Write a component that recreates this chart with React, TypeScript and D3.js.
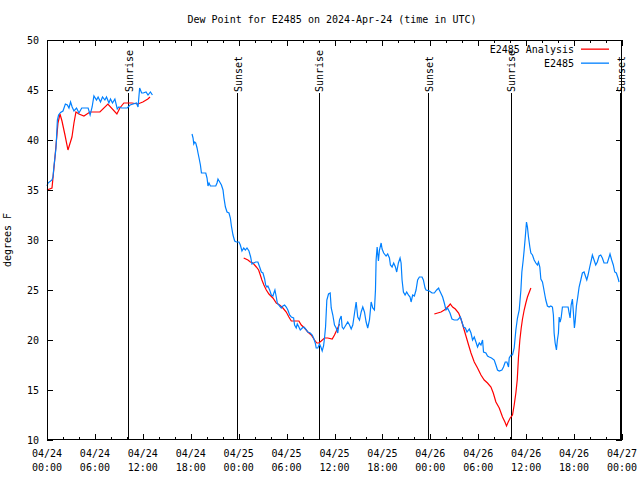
import React from "react";
import * as d3 from "d3";

// time in hours since 2024-04-24 00:00 UTC, value in degrees F
const analysisSeg1: [number, number][] = [[0,35.0],[0.625,35.2],[1,38.3],[1.375,41.7],[1.625,42.6],[1.875,41.9],[2.25,40.5],[2.625,39.0],[3.125,40.3],[3.375,41.7],[3.625,42.8],[4,42.6],[4.625,42.4],[5.375,42.8],[6.625,42.8],[7.625,43.6],[8.75,42.6],[9.125,43.2],[9.625,43.7],[10.625,43.7],[11.375,43.6],[12,43.8],[12.625,44.1],[12.9,44.3]];
const analysisSeg2: [number, number][] = [[24.63,28.2],[25.16,28.0],[25.46,27.8],[25.79,27.7],[26.21,27.3],[26.5,27.0],[26.71,26.5],[26.91,26.0],[27.16,25.5],[27.46,25.0],[27.79,24.6],[28.29,24.2],[28.71,23.7],[29.13,23.5],[29.54,23.2],[29.96,22.8],[30.29,22.3],[30.59,21.9],[31.54,21.9],[31.84,21.5],[32.25,21.2],[32.66,20.8],[33.09,20.5],[33.5,20.0],[33.79,19.7],[34.04,19.7],[34.34,19.9],[34.75,20.2],[35.16,20.2],[35.71,20.1],[36.0,20.5],[36.29,21.0],[36.63,21.6]];
const analysisSeg3: [number, number][] = [[48.5,22.6],[49.34,22.8],[49.75,23.0],[50.04,23.2],[50.29,23.4],[50.5,23.6],[50.79,23.3],[51.13,23.1],[51.54,22.7],[51.84,22.1],[52.13,21.3],[52.46,20.4],[52.79,19.5],[53.09,18.7],[53.5,17.8],[53.91,17.2],[54.34,16.5],[54.75,16.0],[55.16,15.7],[55.59,15.3],[55.88,14.7],[56.21,13.8],[56.63,13.2],[57.04,12.3],[57.34,11.8],[57.54,11.4],[57.75,11.8],[58.0,12.2],[58.29,12.5],[58.5,13.5],[58.71,14.7],[58.88,16.0],[59.04,18.3],[59.21,20.0],[59.38,21.2],[59.54,22.1],[59.75,23.0],[59.96,23.7],[60.16,24.3],[60.59,25.2]];

const obsSeg1: [number, number][] = [[0,35.4],[0.125,35.7],[0.625,36.0],[0.75,36.3],[0.875,37.4],[1.0,38.3],[1.125,39.2],[1.2,40.3],[1.3,42.0],[1.45,42.5],[1.7,42.75],[2.0,42.9],[2.3,43.6],[2.55,43.5],[2.75,43.2],[2.95,43.8],[3.15,43.3],[3.375,42.9],[3.7,43.2],[4.0,42.7],[4.35,43.2],[5.15,43.2],[5.4,42.5],[5.65,43.3],[5.875,44.4],[6.2,44.0],[6.4,44.3],[6.7,43.8],[6.95,44.3],[7.25,44.0],[7.45,44.3],[7.75,43.7],[7.95,44.1],[8.2,43.7],[8.5,44.1],[8.8,43.1],[9.0,43.3],[9.35,43.2],[10.05,43.2],[10.4,43.5],[11.2,43.7],[11.4,43.3],[11.6,45.2],[11.85,44.7],[12.05,44.7],[12.4,44.8],[12.65,44.5],[12.95,44.8],[13.2,44.5]];
const obsSeg2: [number, number][] = [[18.16,40.6],[18.29,40.2],[18.38,39.6],[18.5,39.8],[18.63,39.7],[18.79,39.2],[18.91,38.7],[19.04,38.2],[19.21,37.5],[19.34,36.7],[19.88,36.7],[20.04,36.2],[20.16,35.4],[20.29,35.7],[20.46,35.4],[21.13,35.4],[21.29,35.7],[21.41,36.1],[21.63,35.8],[21.84,35.5],[22.04,35.0],[22.16,34.2],[22.34,33.3],[22.54,32.8],[22.79,32.7],[22.96,32.2],[23.09,31.4],[23.29,30.5],[23.5,29.9],[23.71,29.8],[24.04,29.8],[24.21,29.5],[24.41,28.9],[24.63,29.2],[24.84,29.0],[25.04,29.2],[25.29,28.9],[25.5,28.3],[25.66,27.6],[25.88,27.7],[26.13,27.8],[26.41,27.8],[26.63,27.3],[26.84,26.8],[27.04,26.7],[27.25,26.1],[27.38,25.5],[27.54,25.3],[27.66,25.4],[27.88,25.0],[28.09,24.5],[28.29,24.4],[28.41,24.7],[28.54,25.0],[28.71,24.3],[28.84,23.7],[29.13,23.4],[29.34,23.2],[29.54,23.4],[29.75,23.5],[29.96,23.3],[30.16,23.0],[30.38,22.5],[30.59,22.3],[30.88,22.2],[31.0,21.5],[31.21,21.2],[31.34,21.6],[31.54,21.3],[31.71,21.0],[31.96,21.2],[32.16,21.3],[32.38,21.1],[32.66,20.8],[32.96,20.7],[33.21,20.5],[33.38,20.2],[33.59,19.7],[33.71,19.2],[33.91,19.2],[34.13,19.6],[34.34,19.2],[34.46,18.9],[34.63,19.4],[34.75,20.2],[34.88,21.3],[35.04,24.0],[35.25,24.6],[35.46,24.7],[35.59,23.2],[35.79,22.5],[36.0,21.5],[36.21,21.2],[36.41,20.7],[36.63,22.0],[36.84,22.4],[36.96,21.3],[37.13,21.1],[37.66,21.8],[37.88,21.5],[38.09,21.1],[38.29,21.5],[38.71,23.8],[38.91,22.3],[39.13,22.0],[39.34,22.8],[39.54,23.3],[39.75,22.8],[39.96,21.8],[40.16,21.2],[40.38,22.0],[40.59,23.8],[40.79,23.2],[41.0,23.0],[41.13,25.0],[41.21,28.0],[41.34,29.3],[41.5,27.9],[41.63,29.0],[41.84,29.7],[41.96,29.1],[42.16,28.7],[42.46,28.4],[42.66,28.6],[42.88,28.2],[43.0,27.5],[43.21,27.3],[43.41,27.7],[43.63,27.3],[43.79,26.8],[44.0,27.7],[44.21,28.2],[44.34,27.7],[44.46,26.0],[44.63,24.8],[44.84,24.5],[45.04,24.8],[45.25,24.5],[45.46,24.3],[45.59,23.8],[45.79,24.5],[46.0,24.4],[46.21,25.0],[46.41,26.0],[46.63,26.3],[46.96,26.3],[47.13,26.0],[47.34,25.2],[47.46,25.0],[47.88,24.9],[48.21,24.7],[48.5,24.7],[48.79,25.0],[49.04,25.2],[49.13,25.0],[49.54,24.3],[49.75,23.7],[49.96,23.0],[50.16,23.2],[50.46,22.7],[50.71,22.1],[51.0,22.0],[51.41,22.0],[51.75,22.3],[51.96,21.8],[52.16,21.3],[52.38,21.2],[52.59,20.8],[52.88,21.1],[53.09,20.7],[53.29,20.0],[53.5,20.3],[53.71,19.8],[53.91,19.3],[54.13,19.7],[54.34,19.5],[54.54,20.0],[54.66,18.8],[54.96,18.7],[55.16,18.4],[55.38,18.3],[55.66,18.2],[56.0,18.0],[56.21,17.5],[56.41,17.0],[56.63,16.9],[56.96,17.0],[57.16,17.3],[57.38,17.8],[57.59,17.8],[57.79,17.3],[57.88,18.2],[58.09,18.5],[58.29,18.5],[58.5,19.2],[58.71,21.0],[58.91,22.2],[59.13,23.0],[59.34,25.0],[59.46,26.8],[59.63,28.0],[59.75,29.0],[59.88,30.2],[60.04,31.8],[60.16,31.3],[60.29,30.3],[60.46,29.3],[60.59,28.7],[60.79,28.5],[61.0,28.0],[61.21,27.7],[61.41,27.5],[61.54,27.8],[61.71,27.3],[61.84,26.1],[62.04,25.8],[62.16,25.3],[62.34,24.5],[62.46,24.0],[62.66,23.4],[62.88,23.3],[63.09,23.4],[63.29,23.3],[63.41,22.5],[63.5,20.7],[63.63,19.7],[63.79,19.0],[63.91,20.0],[64.04,20.7],[64.13,22.3],[64.25,21.8],[64.38,22.2],[64.54,23.3],[64.96,23.3],[65.25,23.3],[65.38,22.7],[65.5,22.2],[65.63,23.5],[65.79,24.1],[65.91,22.8],[66.04,21.2],[66.13,21.8],[66.29,23.4],[66.46,24.3],[66.63,25.3],[66.84,26.0],[67.04,26.7],[67.25,26.8],[67.46,26.3],[67.59,26.0],[67.75,26.5],[67.96,27.3],[68.16,28.0],[68.29,28.5],[68.5,28.0],[68.71,27.5],[68.91,27.8],[69.13,28.4],[69.34,28.5],[69.54,28.2],[69.75,27.7],[70.16,27.7],[70.5,28.6],[70.71,28.0],[70.91,27.5],[71.09,26.8],[71.29,26.7],[71.5,26.2],[71.63,25.8]];

const analysisSegments = [analysisSeg1, analysisSeg2, analysisSeg3];
const obsSegments = [obsSeg1, obsSeg2];

const sunEvents: { label: string; hour: number }[] = [
  { label: "Sunrise", hour: 10.15 },
  { label: "Sunset", hour: 23.8 },
  { label: "Sunrise", hour: 34.05 },
  { label: "Sunset", hour: 47.75 },
  { label: "Sunrise", hour: 58.08 },
  { label: "Sunset", hour: 71.75 },
];

const xTickHours = [0, 6, 12, 18, 24, 30, 36, 42, 48, 54, 60, 66, 72];
const xTickDates = ["04/24", "04/24", "04/24", "04/24", "04/25", "04/25", "04/25", "04/25", "04/26", "04/26", "04/26", "04/26", "04/27"];
const xTickTimes = ["00:00", "06:00", "12:00", "18:00", "00:00", "06:00", "12:00", "18:00", "00:00", "06:00", "12:00", "18:00", "00:00"];
const yTicks = [10, 15, 20, 25, 30, 35, 40, 45, 50];

const title = "Dew Point for E2485 on 2024-Apr-24 (time in UTC)";
const yLabel = "degrees F";
const legendNames = ["E2485 Analysis", "E2485"];

const RED = "#ff0000";
const BLUE = "#0080ff";
const FONT = "'DejaVu Sans Mono', 'Liberation Mono', monospace";

export default function App() {
  const L = 47, R = 622, T = 40, B = 440;
  const x = d3.scaleLinear().domain([0, 72]).range([L, R]);
  const y = d3.scaleLinear().domain([10, 50]).range([B, T]);
  const line = d3
    .line<[number, number]>()
    .x((d) => x(d[0]))
    .y((d) => y(d[1]));
  const minorHours = d3.range(0, 73, 2).filter((h) => h % 6 !== 0);
  const px = (v: number) => Math.round(v) + 0.5;
  const legendColors = [RED, BLUE];

  return (
    <svg
      width={640}
      height={480}
      style={{ position: "absolute", left: 0, top: 0, background: "#fff" }}
      fontFamily={FONT}
      fontSize={10}
    >
      <rect x={0} y={0} width={640} height={480} fill="#fff" />
      <text x={332} y={23} textAnchor="middle" fill="#000">{title}</text>
      <text
        transform={`translate(11,${(T + B) / 2}) rotate(-90)`}
        textAnchor="middle"
        fill="#000"
      >
        {yLabel}
      </text>

      {/* ticks */}
      <g stroke="#000" strokeWidth={1} shapeRendering="crispEdges">
        {xTickHours.map((h) => (
          <g key={"xt" + h}>
            <line x1={px(x(h))} x2={px(x(h))} y1={B} y2={B - 6} />
            <line x1={px(x(h))} x2={px(x(h))} y1={T} y2={T + 6} />
          </g>
        ))}
        {minorHours.map((h) => (
          <g key={"xm" + h}>
            <line x1={px(x(h))} x2={px(x(h))} y1={B} y2={B - 3} />
            <line x1={px(x(h))} x2={px(x(h))} y1={T} y2={T + 3} />
          </g>
        ))}
        {yTicks.map((v) => (
          <g key={"yt" + v}>
            <line x1={L} x2={L + 6} y1={px(y(v))} y2={px(y(v))} />
            <line x1={R} x2={R - 6} y1={px(y(v))} y2={px(y(v))} />
          </g>
        ))}
      </g>

      {yTicks.map((v) => (
        <text key={"yl" + v} x={L - 8} y={y(v)} dy="0.35em" textAnchor="end" fill="#000">
          {v}
        </text>
      ))}
      {xTickHours.map((h, i) => (
        <g key={"xl" + h}>
          <text x={x(h)} y={457} textAnchor="middle" fill="#000">{xTickDates[i]}</text>
          <text x={x(h)} y={471} textAnchor="middle" fill="#000">{xTickTimes[i]}</text>
        </g>
      ))}

      {/* sunrise / sunset */}
      {sunEvents.map((e, i) => (
        <g key={"sun" + i}>
          <line
            x1={px(x(e.hour))}
            x2={px(x(e.hour))}
            y1={93}
            y2={B}
            stroke="#000"
            strokeWidth={1}
            shapeRendering="crispEdges"
          />
          <text
            transform={`translate(${x(e.hour) + 1},92) rotate(-90)`}
            textAnchor="start"
            dominantBaseline="central"
            fill="#000"
          >
            {e.label}
          </text>
        </g>
      ))}

      {/* data */}
      {analysisSegments.map((seg, i) => (
        <path key={"a" + i} d={line(seg) || ""} fill="none" stroke={RED} strokeWidth={1.2} />
      ))}
      {obsSegments.map((seg, i) => (
        <path key={"o" + i} d={line(seg) || ""} fill="none" stroke={BLUE} strokeWidth={1.2} />
      ))}

      {/* legend */}
      {legendNames.map((name, i) => (
        <g key={"lg" + i}>
          <text x={574} y={49 + i * 14} dy="0.35em" textAnchor="end" fill="#000">{name}</text>
          <rect x={581} y={48.5 + i * 14} width={28} height={1.3} fill={legendColors[i]} />
        </g>
      ))}

      {/* border */}
      <rect
        x={L + 0.5}
        y={T + 0.5}
        width={R - L - 1}
        height={B - T - 1}
        fill="none"
        stroke="#000"
        strokeWidth={1}
        shapeRendering="crispEdges"
      />
    </svg>
  );
}
